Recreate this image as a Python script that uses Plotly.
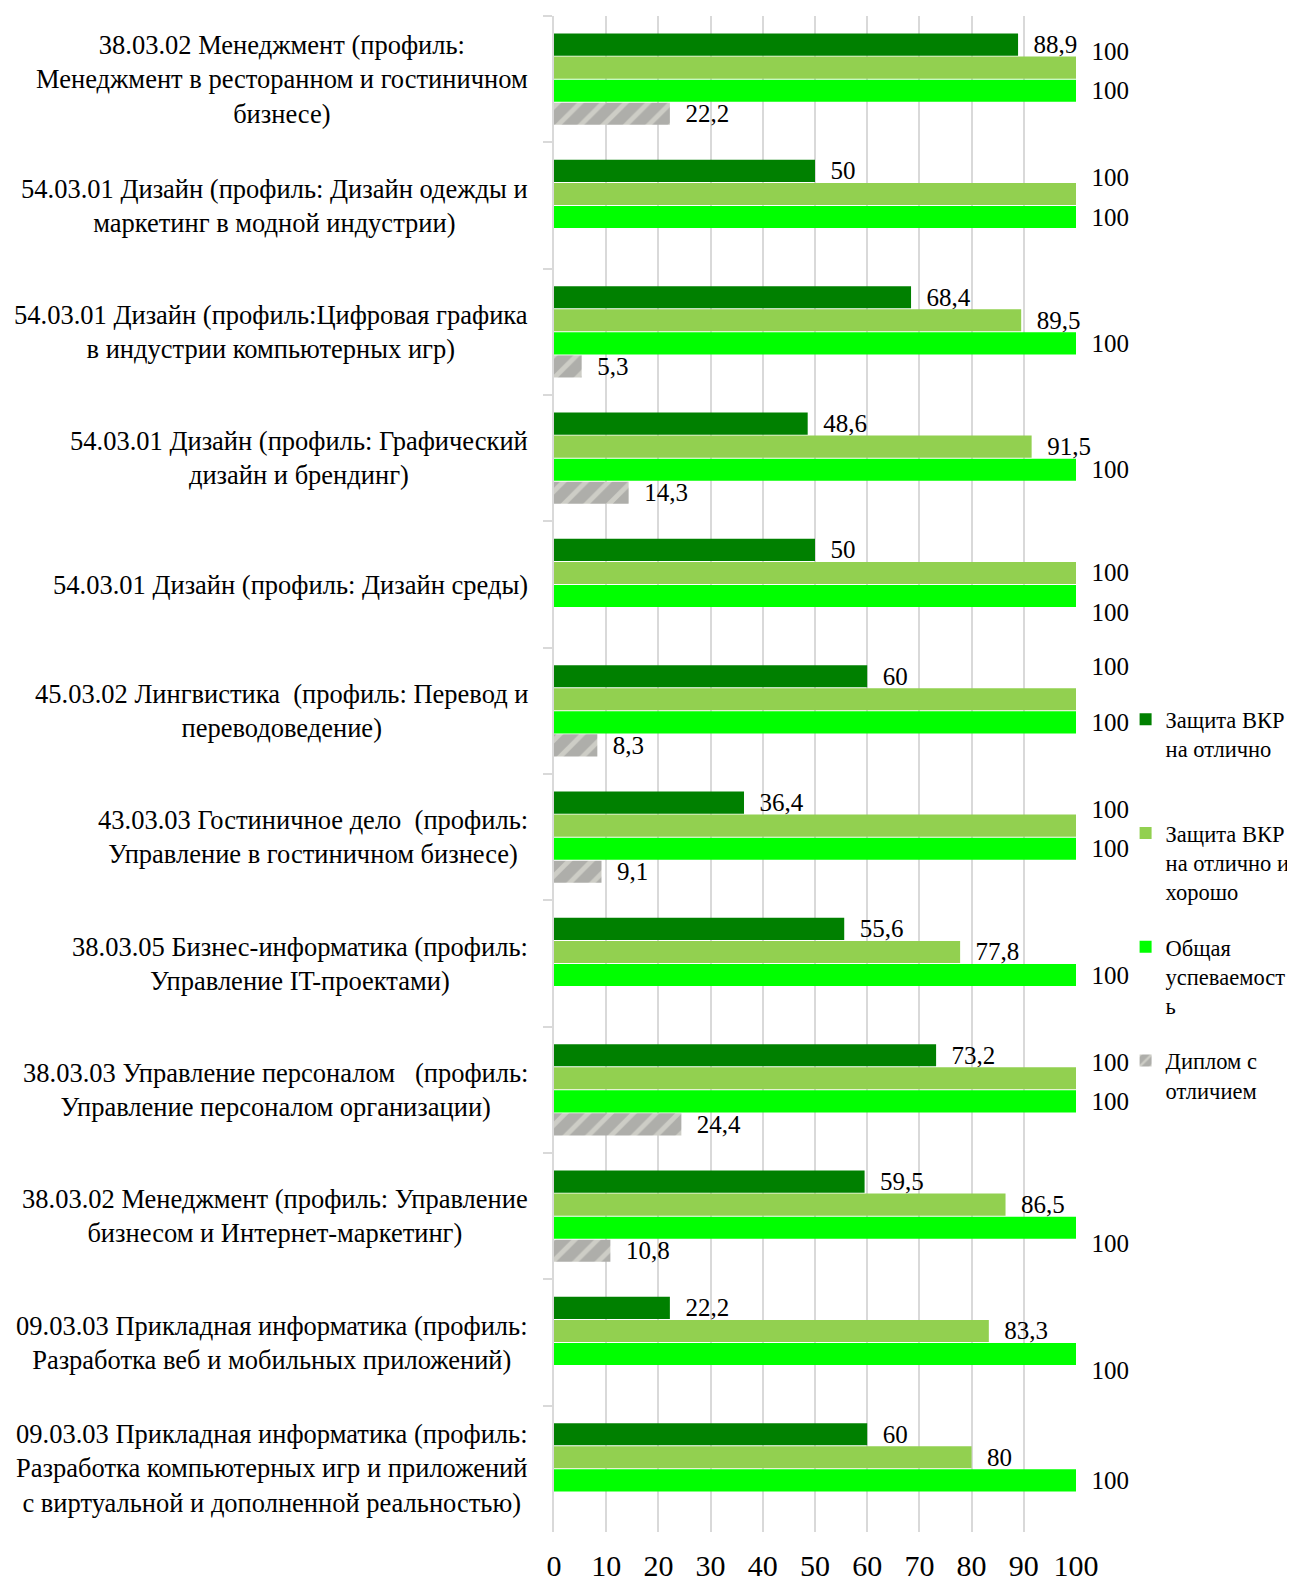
import plotly.graph_objects as go

# Categories, top to bottom
programs = [
    "38.03.02 Менеджмент (профиль:<br>Менеджмент в ресторанном и гостиничном<br>бизнесе)",
    "54.03.01 Дизайн (профиль: Дизайн одежды и<br>маркетинг в модной индустрии)",
    "54.03.01 Дизайн (профиль:Цифровая графика<br>в индустрии компьютерных игр)",
    "54.03.01 Дизайн (профиль: Графический<br>дизайн и брендинг)",
    "54.03.01 Дизайн (профиль: Дизайн среды)",
    "45.03.02 Лингвистика  (профиль: Перевод и<br>переводоведение)",
    "43.03.03 Гостиничное дело  (профиль:<br>Управление в гостиничном бизнесе)",
    "38.03.05 Бизнес-информатика (профиль:<br>Управление IT-проектами)",
    "38.03.03 Управление персоналом   (профиль:<br>Управление персоналом организации)",
    "38.03.02 Менеджмент (профиль: Управление<br>бизнесом и Интернет-маркетинг)",
    "09.03.03 Прикладная информатика (профиль:<br>Разработка веб и мобильных приложений)",
    "09.03.03 Прикладная информатика (профиль:<br>Разработка компьютерных игр и приложений<br>с виртуальной и дополненной реальностью)",
]

excellent = [88.9, 50, 68.4, 48.6, 50, 60, 36.4, 55.6, 73.2, 59.5, 22.2, 60]
good_excellent = [100, 100, 89.5, 91.5, 100, 100, 100, 77.8, 100, 86.5, 83.3, 80]
overall = [100, 100, 100, 100, 100, 100, 100, 100, 100, 100, 100, 100]
honours = [22.2, None, 5.3, 14.3, None, 8.3, 9.1, None, 24.4, 10.8, None, None]

# how the data labels were nudged in the original (+1 = a line up, -1 = a line down)
good_label_lift = [1, 1, 0, 0, 0, 2, 1, 0, 1, 0, 0, 0]
overall_label_lift = [0, 0, 0, 0, -1, 0, 0, 0, 0, -1, -1, 0]

series_names = [
    "Защита ВКР<br>на отлично<br> ",
    "Защита ВКР<br>на отлично и<br>хорошо",
    "Общая<br>успеваемост<br>ь",
    "Диплом с<br>отличием",
]

FONT = "Liberation Serif, Times New Roman, serif"
GRID = "#d9d9d9"
PAD = "\u2002"
BLANK = "\u00a0"


def fmt(v, lift=0):
    if v is None:
        return ""
    s = PAD + f"{v:g}".replace(".", ",")
    if lift > 0:
        s = s + ("<br>" + BLANK) * lift
    elif lift < 0:
        s = (BLANK + "<br>") * (-lift) + s
    return s


label_sets = [
    [fmt(v) for v in excellent],
    [fmt(v, k) for v, k in zip(good_excellent, good_label_lift)],
    [fmt(v, k) for v, k in zip(overall, overall_label_lift)],
    [fmt(v) for v in honours],
]

fig = go.Figure()
styles = [
    dict(color="#008000"),
    dict(color="#92d050"),
    dict(color="#00ff00"),
    dict(color="#b4b4ae", pattern=dict(shape="/", fgcolor="#ececE2",
                                       bgcolor="#aeaeaa", size=16, solidity=0.3)),
]
for name, vals, labels, st in zip(series_names,
                                  [excellent, good_excellent, overall, honours],
                                  label_sets, styles):
    fig.add_trace(go.Bar(
        y=programs, x=vals, name=name, orientation="h",
        marker=dict(line=dict(width=0), **st),
        text=labels, textposition="outside",
        textfont=dict(family=FONT, size=25, color="black"),
        constraintext="none", cliponaxis=False, legendgroup=name,
    ))

# category labels, centred lines
for p in programs:
    fig.add_annotation(
        x=0, xref="paper", y=p, yref="y", xanchor="right", xshift=-24,
        text=p, showarrow=False, align="center",
        font=dict(family=FONT, size=26.5, color="black"),
    )

fig.update_layout(
    width=1295, height=1582,
    paper_bgcolor="white", plot_bgcolor="white",
    margin=dict(l=546, r=209, t=8, b=39),
    barmode="group", bargap=0.27, bargroupgap=0.04,
    font=dict(family=FONT, color="black"),
    legend=dict(x=1.095, y=0.55, xanchor="left", yanchor="top",
                bgcolor="rgba(0,0,0,0)",
                font=dict(family=FONT, size=22.5), valign="top",
                tracegroupgap=23, itemwidth=30),
)
fig.update_xaxes(range=[0, 100], dtick=10, showgrid=True, gridcolor=GRID, gridwidth=1.5,
                 zeroline=False, showline=False,
                 tickfont=dict(family=FONT, size=30), ticklabelstandoff=13)
fig.update_yaxes(autorange="reversed", showticklabels=False, showline=True,
                 linecolor=GRID, linewidth=1.5, ticks="outside", tickson="boundaries",
                 ticklen=9, tickcolor=GRID, tickwidth=1.5, showgrid=False)

fig.write_html("out.html")
